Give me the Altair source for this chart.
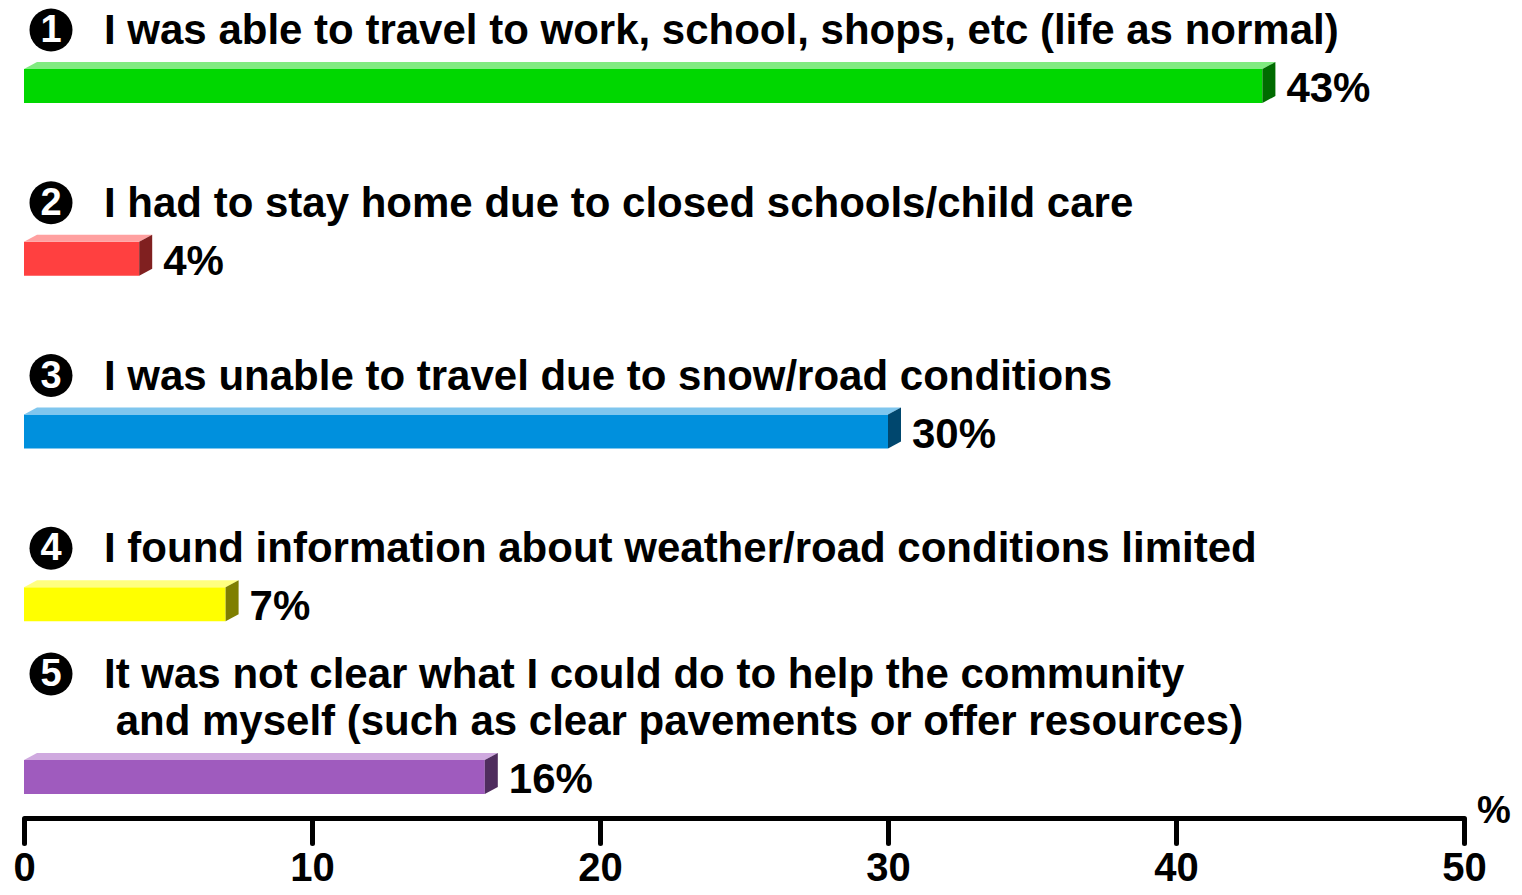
import altair as alt
import pandas as pd

# ---------------- data ----------------
labels = [
    "I was able to travel to work, school, shops, etc (life as normal)",
    "I had to stay home due to closed schools/child care",
    "I was unable to travel due to snow/road conditions",
    "I found information about weather/road conditions limited",
    "It was not clear what I could do to help the community\n\u200b\u00a0and myself (such as clear pavements or offer resources)",
]
numbers = ["1", "2", "3", "4", "5"]
values = [43, 4, 30, 7, 16]
front_colors = ["#00D700", "#FF4040", "#0090DD", "#FFFF00", "#9F5BBE"]
top_colors = ["#80EB80", "#FFA0A0", "#7FC6EE", "#FFFF80", "#CFA9DF"]
side_colors = ["#006B00", "#802020", "#00476E", "#7F7F00", "#4F2D5E"]
ticks = [0, 10, 20, 30, 40, 50]

# ---------------- layout (style constants) ----------------
PAD_TOP = 6
W, H = 1440, 810 - PAD_TOP
XMAX = 50
ROW_PX = 172.75
PX_PER_PCT = W / XMAX
HALF = 17 / ROW_PX
DEPTH_Y = 7 / ROW_PX
DEPTH_X = 13 / PX_PER_PCT
LABEL_OFF = 56
LINE_H = 47
Y_TOP = -(78 - PAD_TOP) / ROW_PX
Y_BOT = Y_TOP + H / ROW_PX
FONT = "Liberation Sans"

front_rows, top_rows, side_rows, text_rows, badge_rows = [], [], [], [], []
for i, (lab, num, v) in enumerate(zip(labels, numbers, values)):
    front_rows.append({"bar": i, "v": v, "y1": i - HALF, "y2": i + HALF,
                       "c": front_colors[i], "row": i, "pct": f"{v}%"})
    top_rows.append({"bar": i, "y": i - HALF, "x": 0, "x2": v, "c": top_colors[i]})
    top_rows.append({"bar": i, "y": i - HALF - DEPTH_Y, "x": DEPTH_X,
                     "x2": v + DEPTH_X, "c": top_colors[i]})
    side_rows.append({"bar": i, "x": v, "y": i - HALF, "y2": i + HALF, "c": side_colors[i]})
    side_rows.append({"bar": i, "x": v + DEPTH_X, "y": i - HALF - DEPTH_Y,
                      "y2": i + HALF - DEPTH_Y, "c": side_colors[i]})
    lines = lab.split("\n")
    n = len(lines)
    for k, ln in enumerate(lines):
        text_rows.append({"txt": ln, "y": i - (LABEL_OFF + LINE_H * (n - 1 - k)) / ROW_PX})
    badge_rows.append({"num": num, "y": i - (LABEL_OFF + LINE_H * (n - 1)) / ROW_PX})

front_df = pd.DataFrame(front_rows)
top_df = pd.DataFrame(top_rows)
side_df = pd.DataFrame(side_rows)
text_df = pd.DataFrame(text_rows)
badge_df = pd.DataFrame(badge_rows)

xscale = alt.Scale(domain=[0, XMAX], nice=False, zero=False)
yscale = alt.Scale(domain=[Y_TOP, Y_BOT], reverse=True, nice=False, zero=False)

xaxis = alt.Axis(values=ticks, format="d", title=None, grid=False,
                 labelFont=FONT, labelFontWeight="bold", labelFontSize=40,
                 labelColor="black", labelPadding=5, labelFlush=False,
                 domainColor="black", domainWidth=5, tickColor="black",
                 tickWidth=5, tickSize=25, tickCap="round")

front = alt.Chart(front_df).mark_rect().encode(
    x=alt.X("v0:Q", scale=xscale, axis=xaxis),
    x2="v:Q",
    y=alt.Y("y1:Q", scale=yscale, axis=None),
    y2="y2:Q",
    color=alt.Color("c:N", scale=None),
).transform_calculate(v0="0")

top = alt.Chart(top_df).mark_area(orient="horizontal").encode(
    x=alt.X("x:Q", scale=xscale, stack=None),
    x2="x2:Q",
    y=alt.Y("y:Q", scale=yscale),
    detail="bar:N",
    color=alt.Color("c:N", scale=None),
)

side = alt.Chart(side_df).mark_area(orient="vertical").encode(
    x=alt.X("x:Q", scale=xscale),
    y=alt.Y("y:Q", scale=yscale, stack=None),
    y2="y2:Q",
    detail="bar:N",
    color=alt.Color("c:N", scale=None),
)

pct = alt.Chart(front_df).mark_text(
    align="left", baseline="middle", dx=24, dy=3,
    font=FONT, fontWeight="bold", fontSize=42, color="black",
).encode(
    x=alt.X("v:Q", scale=xscale),
    y=alt.Y("row:Q", scale=yscale),
    text="pct:N",
)

qtext = alt.Chart(text_df).mark_text(
    align="left", baseline="middle", dx=80, dy=1,
    font=FONT, fontWeight="bold", fontSize=42, color="black",
).encode(
    x=alt.datum(0, scale=xscale),
    y=alt.Y("y:Q", scale=yscale),
    text="txt:N",
)

badge = alt.Chart(badge_df).mark_circle(size=43 * 43, color="black", opacity=1).encode(
    x=alt.value(27),
    y=alt.Y("y:Q", scale=yscale),
)

badge_num = alt.Chart(badge_df).mark_text(
    align="center", baseline="middle", dx=27, dy=1,
    font=FONT, fontWeight="bold", fontSize=38, color="white",
).encode(
    x=alt.datum(0, scale=xscale),
    y=alt.Y("y:Q", scale=yscale),
    text="num:N",
)

unit = alt.Chart(pd.DataFrame({"u": ["%"]})).mark_text(
    align="left", baseline="middle", dx=13, dy=-6,
    font=FONT, fontWeight="bold", fontSize=38, color="black",
).encode(
    x=alt.datum(XMAX, scale=xscale),
    y=alt.value(H),
    text="u:N",
)

chart = alt.layer(front, top, side, pct, qtext, badge, badge_num, unit).properties(
    width=W, height=H,
    padding={"left": 16, "top": PAD_TOP, "right": 50, "bottom": 69},
    autosize=alt.AutoSizeParams(type="none"),
    background="white",
).configure_view(stroke=None)

chart.save("out.html", embed_options={"renderer": "svg", "actions": False})
